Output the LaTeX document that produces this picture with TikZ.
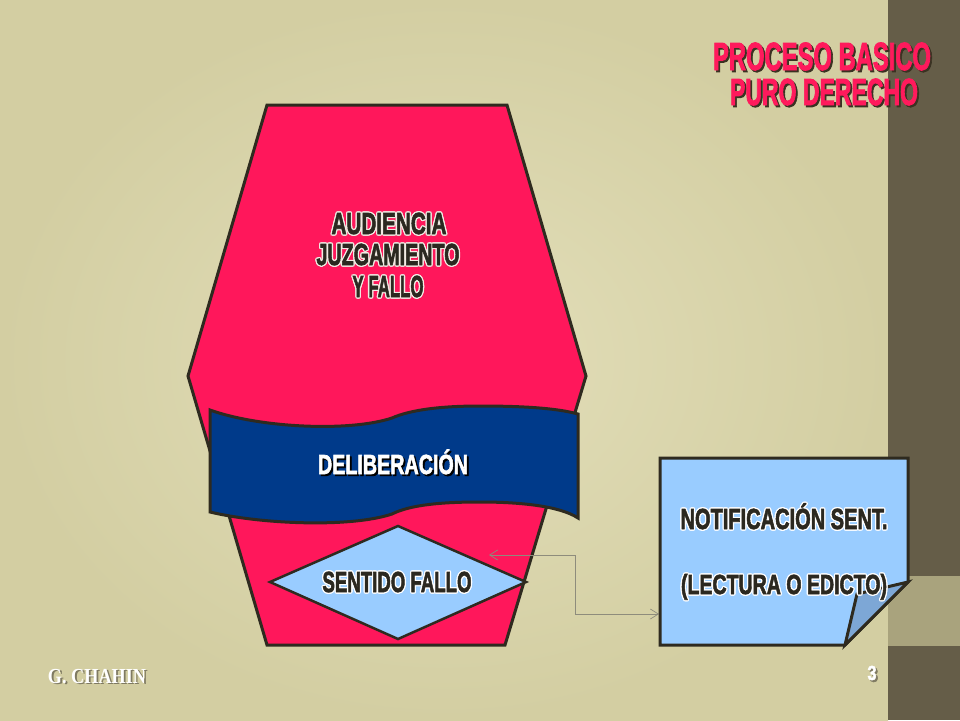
\documentclass[tikz,border=0pt]{standalone}
\usepackage{fontspec}
\usepackage{graphicx}
\usetikzlibrary{arrows.meta}
\newfontfamily\condfont[FakeBold=2.5]{Liberation Sans Bold}
\newfontfamily\serbold{Liberation Serif Bold}
\definecolor{bgin}{HTML}{E3DFBA}
\definecolor{bgout}{HTML}{D3CEA2}
\definecolor{rightbar}{HTML}{655D48}
\definecolor{band}{HTML}{A9A37D}
\definecolor{hexpink}{HTML}{FF175B}
\definecolor{darkline}{HTML}{2E2A1F}
\definecolor{bannerblue}{HTML}{003A8A}
\definecolor{lightblue}{HTML}{99CCFF}
\definecolor{flapblue}{HTML}{7DA7D6}
\definecolor{titlepink}{HTML}{FF1A5C}
\definecolor{shadowdark}{HTML}{3A3222}
\definecolor{textdark}{HTML}{2B2820}
\definecolor{outlinelight}{HTML}{F2ECE4}
\definecolor{conngray}{HTML}{8E8C7C}
\definecolor{footshadow}{HTML}{7F7A62}
\newcommand\fitt[4][\condfont]{\resizebox{#2}{#3}{#1\raisebox{0pt}[\fontcharht\font`H][0pt]{#4}}}
% outlined text: name, x, y(baseline), width, capheight, colour, outline colour, text
\newcommand\otext[8]{%
  \foreach \dx/\dy in {1.3/0,-1.3/0,0/1.3,0/-1.3,0.95/0.95,-0.95/0.95,0.95/-0.95,-0.95/-0.95}{%
    \node[txt,text=#7,xshift=\dx pt,yshift=\dy pt] at (#2,#3) {\fitt{#4pt}{#5pt}{#8}};}
  \node[txt,text=#6] (#1) at (#2,#3) {\fitt{#4pt}{#5pt}{#8}};}
% shadowed text: name, x, y(baseline), width, capheight, colour, shadow colour, font, text
\newcommand\stext[9]{%
  \node[txt,text=#7,xshift=1.8pt,yshift=-1.8pt] at (#2,#3) {\fitt[#8]{#4pt}{#5pt}{#9}};
  \node[txt,text=#6] (#1) at (#2,#3) {\fitt[#8]{#4pt}{#5pt}{#9}};}
\begin{document}
\begin{tikzpicture}[x=1pt,y=-1pt,
  txt/.style={inner sep=0pt,outer sep=0pt,anchor=base},
  shapeline/.style={draw=darkline,line width=3pt,line join=miter},
  conn/.style={draw=conngray,line width=0.7pt,{Straight Barb[length=8pt,width=10pt]}-{Straight Barb[length=8pt,width=10pt]}}]
\useasboundingbox (0,0) rectangle (960,720);
% background
\shade[inner color=bgin,outer color=bgout] (0,0) rectangle (888,720);
\fill[rightbar] (888,0) rectangle (960,720);
\fill[band] (888,576) rectangle (960,646);
% hexagon
\draw[shapeline,fill=hexpink] (267,105) -- (507,105) -- (586,376) -- (505,645) -- (267,645) -- (188,376) -- cycle;
% banner
\draw[shapeline,fill=bannerblue] (210,410)
  .. controls (260,428) and (350,432) .. (392,418)
  .. controls (410,410) and (440,406) .. (480,406)
  .. controls (530,406) and (560,409) .. (578,414)
  -- (578,518)
  .. controls (560,506) and (520,502) .. (480,502)
  .. controls (440,502) and (410,505) .. (392,514)
  .. controls (350,528) and (260,524) .. (210,512) -- cycle;
% diamond
\draw[shapeline,line width=2.5pt,fill=lightblue] (398,526) -- (526,582) -- (398,639) -- (270,582) -- cycle;
% connector
\coordinate (dtip) at (489,555);
\coordinate (ntip) at (659,614);
\draw[conn] (dtip) -- (575,555) -- (575,614) -- (ntip);
% note
\draw[shapeline,fill=lightblue] (660,458) -- (908,458) -- (908,582) -- (845,645) -- (660,645) -- cycle;
\draw[shapeline,fill=flapblue] (908,582) -- (857,594) -- (845,645) -- cycle;
% texts
\stext{t1}{822}{70}{218}{27}{titlepink}{shadowdark}{\condfont}{PROCESO BASICO}
\stext{t2}{824}{105}{188}{26}{titlepink}{shadowdark}{\condfont}{PURO DERECHO}
\otext{a1}{389}{234}{115}{21}{textdark}{outlinelight}{AUDIENCIA}
\otext{a2}{388}{265}{143}{21}{textdark}{outlinelight}{JUZGAMIENTO}
\otext{a3}{388}{297}{71}{21}{textdark}{outlinelight}{Y FALLO}
\stext{del}{393}{474}{150}{19}{white}{black}{\condfont}{DELIBERACIÓN}
\otext{sf}{397}{592}{149}{20}{textdark}{white}{SENTIDO FALLO}
\otext{n1}{784}{529}{207}{20}{textdark}{white}{NOTIFICACIÓN SENT.}
\otext{n2}{784}{594}{206}{19}{textdark}{white}{(LECTURA O EDICTO)}
\stext{gc}{97}{683}{98}{14}{white}{footshadow}{\serbold}{G. CHAHIN}
\stext{pg}{872}{680}{9}{14}{white}{footshadow}{\condfont}{3}
\end{tikzpicture}
\end{document}
